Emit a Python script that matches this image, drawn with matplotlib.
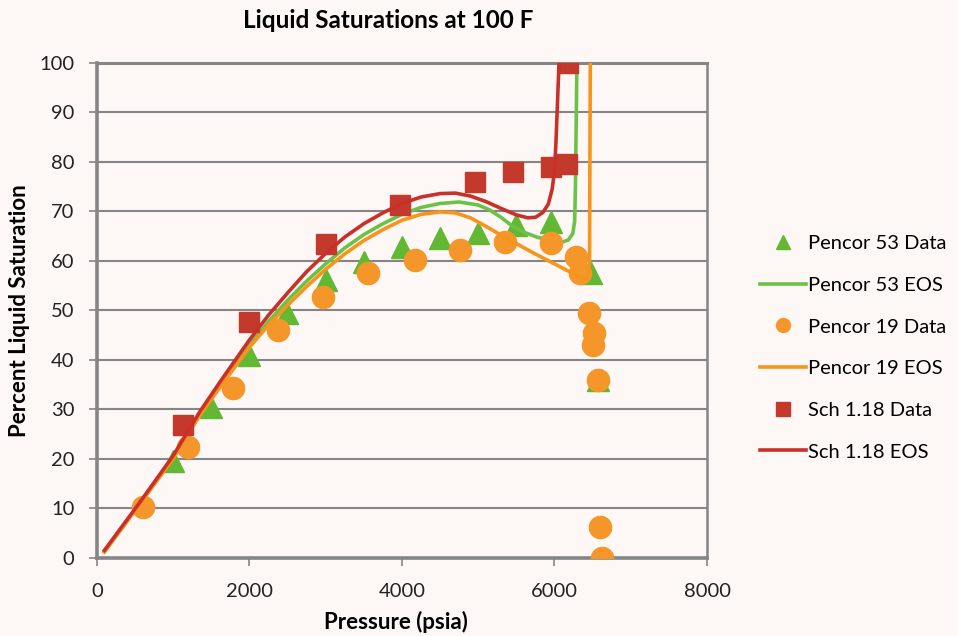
import numpy as np
import matplotlib.pyplot as plt
from matplotlib.lines import Line2D

plt.rcParams['font.family'] = ['Lato', 'DejaVu Sans']

# measured liquid saturations (psia, percent)
p53_data_p = [1000, 1500, 2000, 2500, 3000, 3500, 4000, 4500, 5000, 5500, 5950, 6480, 6570, 6620]
p53_data_s = [19.5, 30.5, 41, 49.5, 56.2, 59.8, 62.8, 64.6, 65.6, 67.3, 67.9, 57.6, 36, 0]

p19_data_p = [600, 1200, 1780, 2380, 2970, 3560, 4170, 4760, 5350, 5950, 6280, 6340, 6450, 6520, 6510, 6570, 6600, 6620]
p19_data_s = [10.3, 22.4, 34.3, 46, 52.7, 57.6, 60.2, 62.2, 63.8, 63.6, 60.8, 57.6, 49.5, 45.5, 43, 36, 6.3, 0]

sch_data_p = [1130, 2000, 3000, 3970, 4960, 5460, 5950, 6160, 6180]
sch_data_s = [26.9, 47.7, 63.4, 71.3, 76, 78, 79, 79.5, 100]

# EOS model curves
p53_eos_p = [100, 560, 1000, 1350, 1650, 2000, 2250, 2500, 2750, 3000, 3250, 3500, 3750, 4000, 4250, 4500,
             4750, 5000, 5150, 5300, 5450, 5600, 5770, 5950, 6100, 6180, 6240, 6265, 6275, 6285, 6295]
p53_eos_s = [1.2, 10.8, 20.2, 29, 35.5, 43, 47.7, 52, 55.9, 59.4, 62.6, 65.3, 67.5, 69.4, 70.8, 71.6,
             71.9, 71.3, 70.3, 68.8, 67, 65.8, 64.8, 64.1, 63.8, 64.2, 65.5, 68, 75, 88, 100]

p19_eos_p = [100, 560, 1000, 1350, 1650, 2000, 2250, 2500, 2750, 3000, 3250, 3500, 3750, 4000, 4250, 4500,
             4700, 4900, 5100, 5300, 5500, 5700, 5900, 6100, 6300, 6400, 6440, 6460, 6470]
p19_eos_s = [1.2, 10.8, 20, 28.8, 35.2, 42.5, 47, 51, 54.8, 58.3, 61.4, 64.1, 66.3, 68.2, 69.4, 69.9,
             69.7, 68.7, 67, 65.2, 63.5, 61.8, 60.2, 58.6, 57, 56.5, 57, 60, 100]

sch_eos_p = [100, 560, 1000, 1350, 1650, 2000, 2250, 2500, 2750, 3000, 3250, 3500, 3750, 4000, 4250, 4500,
             4700, 4900, 5100, 5300, 5500, 5650, 5750, 5850, 5920, 5970, 6000, 6020, 6040, 6060]
sch_eos_s = [1.5, 11.1, 20.6, 29.5, 36.3, 44, 49, 53.5, 57.8, 61.5, 64.8, 67.5, 69.7, 71.6, 72.9, 73.6,
             73.7, 73.1, 72, 70.6, 69.3, 68.7, 68.8, 69.8, 71.5, 74.5, 78, 84, 92, 100]

green = '#62b832'
green_line = '#6cc247'
orange = '#f5962a'
orange_line = '#f7941d'
red = '#c33a2c'
red_line = '#c9302a'
bg = '#fdf7f6'

fig = plt.figure(figsize=(9.58, 6.36), dpi=100, facecolor=bg)
ax = fig.add_axes([0.101, 0.123, 0.637, 0.778])
ax.set_facecolor(bg)

ax.plot(p53_data_p, p53_data_s, ls='none', marker='^', ms=16, color=green, zorder=3)
ax.plot(p53_eos_p, p53_eos_s, color=green_line, lw=2.6, zorder=4)
ax.plot(p19_data_p, p19_data_s, ls='none', marker='o', ms=16, color=orange, zorder=5)
ax.plot(p19_eos_p, p19_eos_s, color=orange_line, lw=2.6, zorder=6)
ax.plot(sch_data_p, sch_data_s, ls='none', marker='s', ms=15, color=red, zorder=7)
ax.plot(sch_eos_p, sch_eos_s, color=red_line, lw=2.6, zorder=8)

ax.set_xlim(0, 8000)
ax.set_ylim(0, 100)
ax.set_xticks(np.arange(0, 8001, 2000))
ax.set_yticks(np.arange(0, 101, 10))
ax.yaxis.grid(True, color='#858585', lw=1.5)
ax.set_axisbelow(True)
for side in ['left', 'bottom', 'top', 'right']:
    ax.spines[side].set_color('#858585')
ax.spines['left'].set_linewidth(2.6)
ax.spines['bottom'].set_linewidth(2.6)
ax.spines['top'].set_linewidth(2.2)
ax.spines['right'].set_linewidth(1.8)
ax.tick_params(axis='both', labelsize=14.5, colors='#858585', labelcolor='#222222', length=6, width=1.2)
ax.tick_params(axis='x', pad=12)
ax.tick_params(axis='y', pad=10)

ax.set_xlabel('Pressure (psia)', fontsize=16, fontweight='bold', va='center')
ax.xaxis.set_label_coords(0.49, -0.129)
ax.set_ylabel('Percent Liquid Saturation', fontsize=16, fontweight='bold', va='center')
ax.yaxis.set_label_coords(-0.126, 0.5)
fig.text(0.405, 0.968, 'Liquid Saturations at 100 F', fontsize=17.5, fontweight='bold', ha='center', va='center')

handles = [
    Line2D([], [], ls='none', marker='^', ms=10, color=green),
    Line2D([], [], color=green_line, lw=2.6),
    Line2D([], [], ls='none', marker='o', ms=10, color=orange),
    Line2D([], [], color=orange_line, lw=2.6),
    Line2D([], [], ls='none', marker='s', ms=10, color=red),
    Line2D([], [], color=red_line, lw=2.6),
]
labels = ['Pencor 53 Data', 'Pencor 53 EOS', 'Pencor 19 Data', 'Pencor 19 EOS', 'Sch 1.18 Data', 'Sch 1.18 EOS']
fig.legend(handles, labels, loc='upper left', bbox_to_anchor=(0.785, 0.643), frameon=False,
           fontsize=14.5, handlelength=2.3, handletextpad=0.1, labelspacing=1.22, borderaxespad=0)

fig.savefig('out.png', dpi=100, facecolor=bg)
